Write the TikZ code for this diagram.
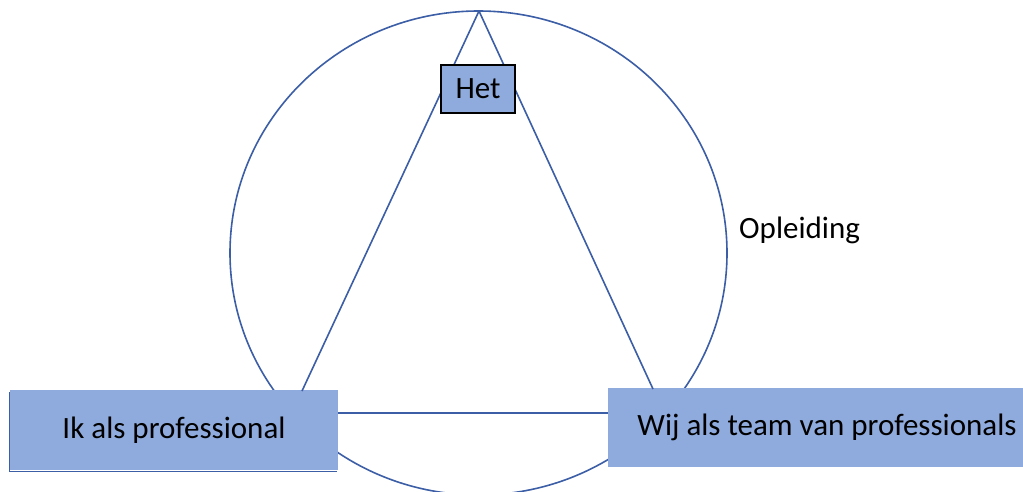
\documentclass[tikz,border=0pt]{standalone}
\usepackage{fontspec}
\setmainfont{Carlito}
\usetikzlibrary{shapes.geometric}
\definecolor{boxfill}{HTML}{8FAADC}
\definecolor{lineblue}{HTML}{3B5EA6}
\tikzset{
  conn/.style={draw=lineblue, line width=1.6pt},
  bluebox/.style={rectangle, fill=boxfill, inner sep=0pt, font=\fontsize{31}{37}\selectfont},
  lbl/.style={inner sep=0pt, font=\fontsize{31}{37}\selectfont}
}
\begin{document}
\begin{tikzpicture}[x=1pt, y=-1pt]
\useasboundingbox (0,0) rectangle (1023,491);
\clip (0,0) rectangle (1023,491);
% ring
\node[ellipse, draw=lineblue, line width=1.6pt, minimum width=497pt, minimum height=484pt, inner sep=0pt] (ring) at (478.5,253) {};
% anchor points
\coordinate (apex) at (479,11);
\coordinate (lt) at (302,391);
\coordinate (rt) at (653,389);
% boxes
\node[bluebox, minimum width=328pt, minimum height=80pt] (ik) at (174,430) {Ik als professional};
\node[bluebox, minimum width=438pt, minimum height=79pt] (wij) at (827,427.5) {Wij als team van professionals};
% shadow lines of left box
\draw[lineblue, line width=0.8pt] (9.5,392) -- (9.5,471) -- (337,471);
% connectors
\draw[conn] (apex) -- (lt);
\draw[conn] (apex) -- (rt);
\draw[conn] (ik.east |- 0,413) -- (wij.west |- 0,413);
% Het box
\node[bluebox, draw=black, line width=1.2pt, minimum width=74pt, minimum height=48pt] (het) at (478,89) {Het};
% label
\node[lbl, anchor=base west] (opl) at (739,238) {Opleiding};
\end{tikzpicture}
\end{document}
